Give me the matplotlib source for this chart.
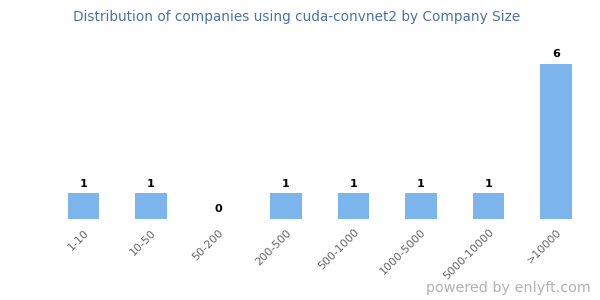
import matplotlib
matplotlib.use("Agg")
import matplotlib.pyplot as plt

categories = ["1-10", "10-50", "50-200", "200-500", "500-1000", "1000-5000", "5000-10000", ">10000"]
counts = [1, 1, 0, 1, 1, 1, 1, 6]

title = "Distribution of companies using cuda-convnet2 by Company Size"
bar_color = "#7cb5ec"

fig = plt.figure(figsize=(6, 3), dpi=100)
ax = fig.add_axes([0.083, 0.27, 0.9, 0.597])

x = range(len(categories))
ax.bar(x, counts, width=0.47, color=bar_color)
for i, v in zip(x, counts):
    ax.text(i, v + 0.18, str(v), ha="center", va="bottom",
            fontsize=8, fontweight="bold", color="black")

ax.set_xlim(-0.5, len(categories) - 0.5)
ax.set_ylim(0, 6.93)
ax.set_xticks(list(x))
ax.set_xticklabels(categories, rotation=45, ha="right", rotation_mode="anchor",
                   fontsize=8, color="#666666")
ax.tick_params(axis="x", length=0, pad=6)
ax.set_yticks([])
for s in ax.spines.values():
    s.set_visible(False)

fig.text(0.495, 0.943, title, ha="center", va="center", fontsize=9.85, color="#4a72a8")
fig.text(0.985, 0.04, "powered by enlyft.com", ha="right", va="center",
         fontsize=10.4, color="#b3b3b3")

fig.savefig("out.png", dpi=100)
